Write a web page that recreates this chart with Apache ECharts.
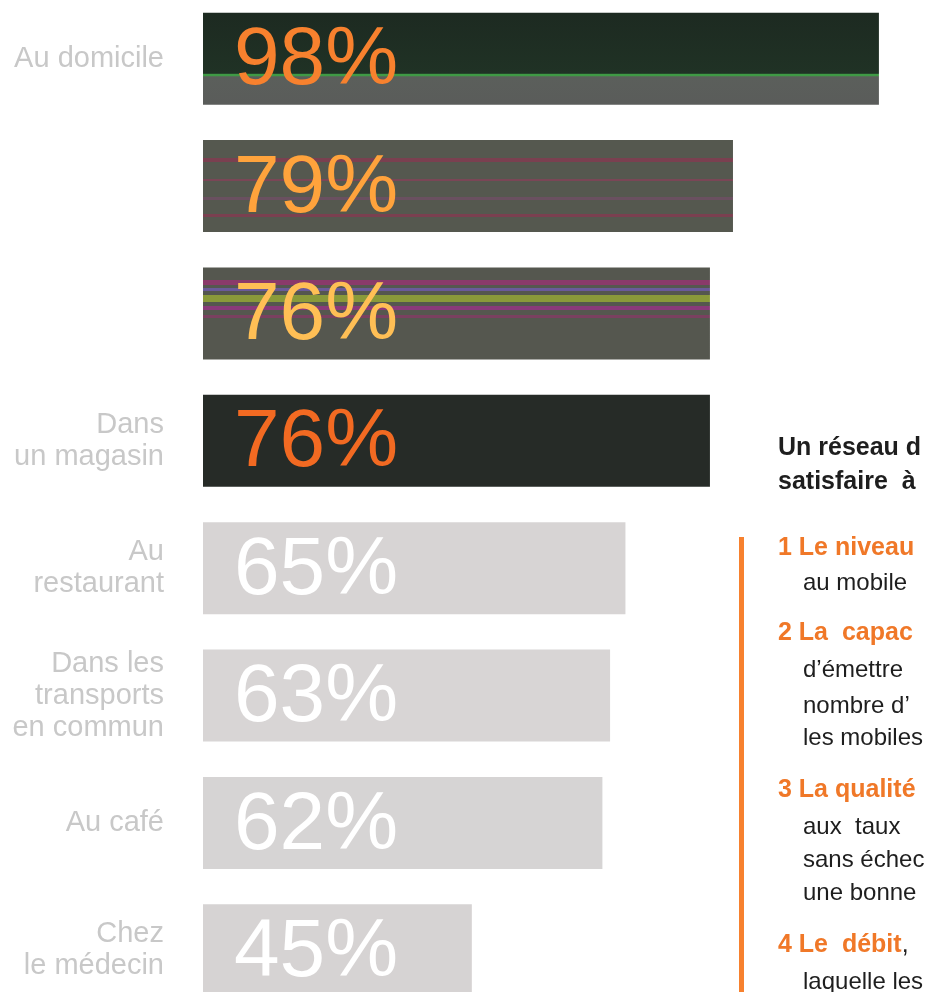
<!DOCTYPE html>
<html><head><meta charset="utf-8">
<script src="https://cdn.jsdelivr.net/npm/echarts@6/dist/echarts.min.js"></script>
<style>html,body{margin:0;padding:0;background:#fff;overflow:hidden}#c{width:925px;height:992px}</style>
</head><body><div id="c"></div>
<script>
const categories = ["Au domicile", "", "", "Dans\nun magasin", "Au\nrestaurant", "Dans les\ntransports\nen commun", "Au café", "Chez\nle médecin"];
const values = [98, 79, 76, 76, 65, 63, 62, 45];
const sideTitle = ["Un réseau d", "satisfaire  à"];
const sideItemHeads = ["1", "Le niveau", "2", "La  capac", "3", "La qualité", "4", "Le  débit"];
const sideItemLines = [["au mobile"], ["d’émettre", "nombre d’", "les mobiles"], ["aux  taux", "sans échec", "une bonne"], ["laquelle les"]];

const stripes = (base, lines) => {
  const stops = [{offset:0,color:base}];
  lines.forEach(([p,c,w]) => {
    stops.push({offset:Math.max(0,p-0.0001),color:base});
    stops.push({offset:p,color:c});
    stops.push({offset:p+w,color:c});
    stops.push({offset:p+w+0.0001,color:base});
  });
  stops.push({offset:1,color:base});
  return {type:'linear',x:0,y:0,x2:0,y2:1,colorStops:stops};
};
const barFills = [
  {type:'linear',x:0,y:0,x2:0,y2:1,colorStops:[{offset:0,color:'#1d2a21'},{offset:0.66,color:'#203225'},{offset:0.665,color:'#3f9a45'},{offset:0.69,color:'#3f9a45'},{offset:0.695,color:'#5b5f5b'},{offset:1,color:'#5a5c5a'}]},
  stripes('#55584f', [[0.2,'#7a4050',0.04],[0.42,'#7a4656',0.03],[0.62,'#6a5060',0.03],[0.8,'#7a4050',0.04]]),
  stripes('#55574f', [[0.14,'#8a3a6a',0.05],[0.22,'#6a5a9a',0.04],[0.3,'#8a9a3a',0.08],[0.42,'#8a3a7a',0.04],[0.52,'#7a4060',0.03]]),
  '#262b27','#d7d4d4','#d8d5d5','#d6d4d4','#d6d3d3'
];
const labelColors = ['#f7812e','#ffa33c','#ffbf55','#f26a22','#ffffff','#ffffff','#ffffff','#ffffff'];

const chart = echarts.init(document.getElementById('c'));
const FONT = '"Liberation Sans", Arial, sans-serif';
const graphics = [];
graphics.push({type:'rect', x:739, y:537, shape:{width:5,height:460}, style:{fill:'#f7812e'}});
const titleY = [448, 482];
sideTitle.forEach((t,i)=>{
  graphics.push({type:'text', x:778, y:titleY[i], style:{text:t, fill:'#1e1e1e', font:'bold 25px ' + FONT, verticalAlign:'middle'}});
});
const headY = [548, 633, 790, 945];
const lineY = [[583], [670, 706, 738], [827, 860, 893], [982]];
for (let i = 0; i < 4; i++) {
  const num = sideItemHeads[2*i], head = sideItemHeads[2*i+1];
  graphics.push({type:'text', x:778, y:headY[i], style:{
    text:'{n|' + num + '} {h|' + head + '}' + (i === 3 ? '{k|,}' : ''),
    verticalAlign:'middle', font:'bold 25px ' + FONT,
    rich:{n:{fill:'#f07828', font:'bold 25px ' + FONT}, h:{fill:'#f07828', font:'bold 25px ' + FONT}, k:{fill:'#1e1e1e', font:'25px ' + FONT}}
  }});
  sideItemLines[i].forEach((l,j)=>{
    graphics.push({type:'text', x:803, y:lineY[i][j], style:{text:l, fill:'#1e1e1e', font:'24px ' + FONT, verticalAlign:'middle'}});
  });
}

chart.setOption({
  animation:false,
  grid:{left:203, right:0, top:-5, bottom:-22, outerBoundsMode:'none', containLabel:false},
  xAxis:{type:'value', min:10, max:104, show:false},
  yAxis:{type:'category', inverse:true, data:categories,
    axisLine:{show:false}, axisTick:{show:false},
    axisLabel:{align:'right', margin:39, color:'#c8c8c8', fontSize:29, lineHeight:32, padding:[9,0,0,0], fontFamily:FONT}},
  series:[{type:'bar', barWidth:92,
    data: values.map((v,i)=>({value:v, itemStyle:{color:barFills[i]}, label:{color:labelColors[i]}})),
    label:{show:true, position:'insideLeft', offset:[26,3], formatter:'{c}%', fontSize:82, fontFamily:FONT}
  }],
  graphic: graphics
});
</script></body></html>
